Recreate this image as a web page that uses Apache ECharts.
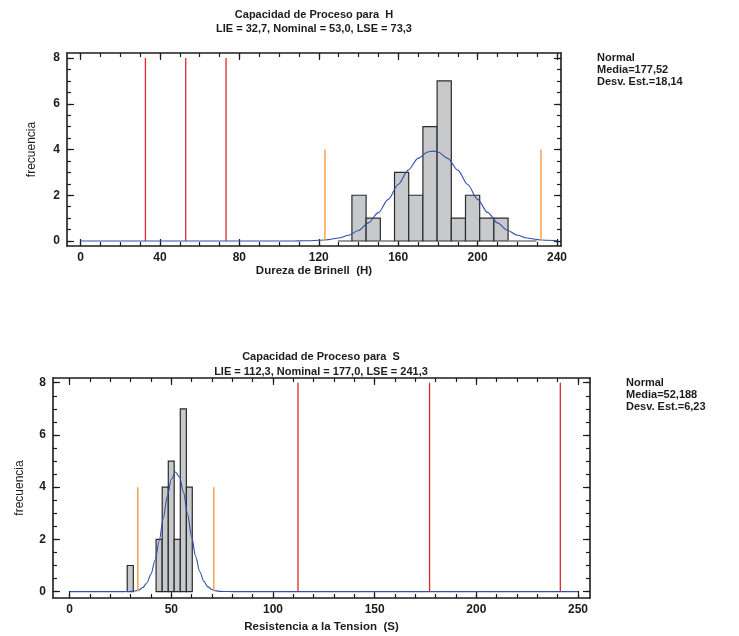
<!DOCTYPE html>
<html>
<head>
<meta charset="utf-8">
<script src="https://cdn.jsdelivr.net/npm/echarts@6/dist/echarts.min.js"></script>
<style>html,body{margin:0;padding:0;background:#fff}#c{width:739px;height:636px}</style>
</head>
<body>
<div id="c"></div>
<script>
// ---------- Chart H (Dureza de Brinell) ----------
const hTitle = 'Capacidad de Proceso para  H';
const hSubtitle = 'LIE = 32,7, Nominal = 53,0, LSE = 73,3';
const hXName = 'Dureza de Brinell  (H)';
const hLegend = ['Normal', 'Media=177,52', 'Desv. Est.=18,14'];
const hXTicks = [0, 40, 80, 120, 160, 200, 240];
const hXMinor = [0,10,20,30,40,50,60,70,80,90,100,110,120,130,140,150,160,170,180,190,200,210,220,230,240];
const hYTicks = [0, 2, 4, 6, 8];
const hYMinor = [0,0.5,1,1.5,2,2.5,3,3.5,4,4.5,5,5.5,6,6.5,7,7.5,8];
const hBinLo = [129.55,136.70,143.85,151.00,158.15,165.30,172.45,179.60,186.75,193.90,201.05,208.20,215.35,222.50];
const hBinHi = [136.70,143.85,151.00,158.15,165.30,172.45,179.60,186.75,193.90,201.05,208.20,215.35,222.50,229.65];
const hCounts = [0,2,1,0,3,2,5,7,1,2,1,1,0,0];
const hCurveX = [0,10,20,30,40,50,60,70,80,90,100,105,110,115,120,125,130,135,140,145,150,155,160,165,170,175,177.5,180,185,190,195,200,205,210,215,220,225,230,235,240];
const hCurveY = [0,0,0,0,0,0,0,0,0,0,0,0,0.005,0.01,0.03,0.06,0.13,0.25,0.46,0.79,1.24,1.82,2.47,3.10,3.61,3.89,3.93,3.89,3.61,3.10,2.47,1.82,1.25,0.79,0.47,0.25,0.13,0.06,0.03,0.01];
const hSpecX = [32.7, 53.0, 73.3];
const hSpecH = [8, 8, 8];
const hSigmaX = [123.1, 231.9];
const hSigmaH = [4, 4];

// ---------- Chart S (Resistencia a la Tension) ----------
const sTitle = 'Capacidad de Proceso para  S';
const sSubtitle = 'LIE = 112,3, Nominal = 177,0, LSE = 241,3';
const sXName = 'Resistencia a la Tension  (S)';
const sLegend = ['Normal', 'Media=52,188', 'Desv. Est.=6,23'];
const sXTicks = [0, 50, 100, 150, 200, 250];
const sXMinor = [0,10,20,30,40,50,60,70,80,90,100,110,120,130,140,150,160,170,180,190,200,210,220,230,240,250];
const sYTicks = [0, 2, 4, 6, 8];
const sYMinor = [0,0.5,1,1.5,2,2.5,3,3.5,4,4.5,5,5.5,6,6.5,7,7.5,8];
const sBinLo = [28.3, 42.5, 45.5, 48.5, 51.4, 54.4, 57.4];
const sBinHi = [31.3, 45.5, 48.5, 51.4, 54.4, 57.4, 60.3];
const sCounts = [1, 2, 4, 5, 2, 7, 4];
const sCurveX = [0,10,20,25,28,30,32,34,36,38,40,42,44,46,48,50,52,54,56,58,60,62,64,66,68,70,72,74,76,80,100,150,200,250];
const sCurveY = [0,0,0,0,0.002,0.008,0.024,0.064,0.156,0.34,0.67,1.20,1.93,2.79,3.65,4.30,4.58,4.39,3.80,2.96,2.09,1.33,0.76,0.39,0.18,0.077,0.029,0.01,0.003,0,0,0,0,0];
const sSpecX = [112.3, 177.0, 241.3];
const sSpecH = [8, 8, 8];
const sSigmaX = [33.5, 70.9];
const sSigmaH = [4, 4];

const FONT = '"Liberation Sans", Arial, sans-serif';
const INK = '#1c1c1c';

function zip3(a, b, c) { return a.map((v, i) => [v, b[i], c[i]]); }
function zip2(a, b) { return a.map((v, i) => [v, b[i]]); }

function xAxes(grid, min, max, major, minor, name, nameGap) {
  const base = { type: 'value', gridIndex: grid, min: min, max: max, splitLine: { show: false } };
  const tickStyle = { color: INK, width: 1.2 };
  return [
    Object.assign({}, base, {
      position: 'bottom',
      axisLine: { show: true, onZero: false, lineStyle: { color: INK, width: 1.6 } },
      axisTick: { show: true, inside: true, length: 7, customValues: major, lineStyle: tickStyle },
      axisLabel: { show: true, customValues: major, margin: 6, fontFamily: FONT, fontWeight: 'bold', fontSize: 12, color: INK },
      name: name, nameLocation: 'middle', nameGap: nameGap,
      nameTextStyle: { fontFamily: FONT, fontWeight: 'bold', fontSize: 11.5, color: INK }
    }),
    Object.assign({}, base, {
      position: 'bottom',
      axisLine: { show: false, onZero: false },
      axisTick: { show: true, inside: true, length: 4, customValues: minor, lineStyle: tickStyle },
      axisLabel: { show: false }
    }),
    Object.assign({}, base, {
      position: 'top',
      axisLine: { show: true, onZero: false, lineStyle: { color: INK, width: 1.6 } },
      axisTick: { show: true, inside: true, length: 7, customValues: major, lineStyle: tickStyle },
      axisLabel: { show: false }
    }),
    Object.assign({}, base, {
      position: 'top',
      axisLine: { show: false, onZero: false },
      axisTick: { show: true, inside: true, length: 4, customValues: minor, lineStyle: tickStyle },
      axisLabel: { show: false }
    })
  ];
}

function yAxes(grid, min, max, major, minor, nameGap) {
  const base = { type: 'value', gridIndex: grid, min: min, max: max, splitLine: { show: false } };
  const tickStyle = { color: INK, width: 1.2 };
  return [
    Object.assign({}, base, {
      position: 'left',
      axisLine: { show: true, onZero: false, lineStyle: { color: INK, width: 1.6 } },
      axisTick: { show: true, inside: true, length: 7, customValues: major, lineStyle: tickStyle },
      axisLabel: { show: true, customValues: major, margin: 7, fontFamily: FONT, fontWeight: 'bold', fontSize: 12, color: INK },
      name: 'frecuencia', nameLocation: 'middle', nameGap: nameGap,
      nameTextStyle: { fontFamily: FONT, fontWeight: 'normal', fontSize: 12, color: INK }
    }),
    Object.assign({}, base, {
      position: 'left',
      axisLine: { show: false, onZero: false },
      axisTick: { show: true, inside: true, length: 4, customValues: minor, lineStyle: tickStyle },
      axisLabel: { show: false }
    }),
    Object.assign({}, base, {
      position: 'right',
      axisLine: { show: true, onZero: false, lineStyle: { color: INK, width: 1.6 } },
      axisTick: { show: true, inside: true, length: 7, customValues: major, lineStyle: tickStyle },
      axisLabel: { show: false }
    }),
    Object.assign({}, base, {
      position: 'right',
      axisLine: { show: false, onZero: false },
      axisTick: { show: true, inside: true, length: 4, customValues: minor, lineStyle: tickStyle },
      axisLabel: { show: false }
    })
  ];
}

function histSeries(axisIdx, lo, hi, counts) {
  return {
    type: 'custom', xAxisIndex: axisIdx, yAxisIndex: axisIdx, z: 2,
    encode: { x: [0, 1], y: 2 },
    data: zip3(lo, hi, counts),
    renderItem: function (params, api) {
      const a = api.value(0), b = api.value(1), c = api.value(2);
      const p0 = api.coord([a, 0]);
      const p1 = api.coord([b, c]);
      if (c === 0) {
        return { type: 'line', shape: { x1: p0[0], y1: p0[1], x2: p1[0], y2: p0[1] },
                 style: { stroke: '#9c9c9c', lineWidth: 2 } };
      }
      return { type: 'rect',
               shape: { x: p0[0], y: p1[1], width: p1[0] - p0[0], height: p0[1] - p1[1] },
               style: { fill: '#c8c9cb', stroke: '#2b2b2b', lineWidth: 1.2 } };
    }
  };
}

function vlineSeries(axisIdx, xs, hs, color, width, z) {
  return {
    type: 'custom', xAxisIndex: axisIdx, yAxisIndex: axisIdx, z: z,
    encode: { x: 0, y: 1 },
    data: zip2(xs, hs),
    renderItem: function (params, api) {
      const p0 = api.coord([api.value(0), 0]);
      const p1 = api.coord([api.value(0), api.value(1)]);
      return { type: 'line', shape: { x1: p0[0], y1: p0[1], x2: p1[0], y2: p1[1] },
               style: { stroke: color, lineWidth: width } };
    }
  };
}

function curveSeries(axisIdx, xs, ys) {
  return {
    type: 'line', xAxisIndex: axisIdx, yAxisIndex: axisIdx, z: 4,
    data: zip2(xs, ys), symbol: 'none', smooth: 0.3, smoothMonotone: 'x',
    lineStyle: { color: '#2f4fae', width: 1.1 }
  };
}

function txt(text, x, y, align) {
  return { type: 'text', x: x, y: y,
           style: { text: text, fill: INK, fontFamily: FONT, fontWeight: 'bold', fontSize: 11,
                    textAlign: align || 'center', textVerticalAlign: 'middle' } };
}

const G0 = { left: 67, top: 53, width: 494, height: 193 };
const G1 = { left: 53, top: 378, width: 537, height: 220 };

const option = {
  animation: false,
  backgroundColor: '#fff',
  grid: [G0, G1],
  xAxis: [].concat(
    xAxes(0, -6.8, 242.0, hXTicks, hXMinor, hXName, 19),
    xAxes(1, -8.2, 255.9, sXTicks, sXMinor, sXName, 23)
  ),
  yAxis: [].concat(
    yAxes(0, -0.219, 8.219, hYTicks, hYMinor, 29),
    yAxes(1, -0.245, 8.18, sYTicks, sYMinor, 27)
  ),
  series: [
    histSeries(0, hBinLo, hBinHi, hCounts),
    curveSeries(0, hCurveX, hCurveY),
    vlineSeries(0, hSpecX, hSpecH, '#e2262e', 1.3, 5),
    vlineSeries(0, hSigmaX, hSigmaH, '#f4a24e', 1.5, 5),
    histSeries(4, sBinLo, sBinHi, sCounts),
    curveSeries(4, sCurveX, sCurveY),
    vlineSeries(4, sSpecX, sSpecH, '#e2262e', 1.3, 5),
    vlineSeries(4, sSigmaX, sSigmaH, '#f4a24e', 1.5, 5)
  ],
  graphic: [
    txt(hTitle, 314, 15),
    txt(hSubtitle, 314, 29),
    txt(hLegend[0], 597, 58, 'left'),
    txt(hLegend[1], 597, 70, 'left'),
    txt(hLegend[2], 597, 82, 'left'),
    txt(sTitle, 321, 357),
    txt(sSubtitle, 321, 372),
    txt(sLegend[0], 626, 383, 'left'),
    txt(sLegend[1], 626, 395, 'left'),
    txt(sLegend[2], 626, 407, 'left')
  ]
};

const chart = echarts.init(document.getElementById('c'), null, { renderer: 'canvas' });
chart.setOption(option);
</script>
</body>
</html>
